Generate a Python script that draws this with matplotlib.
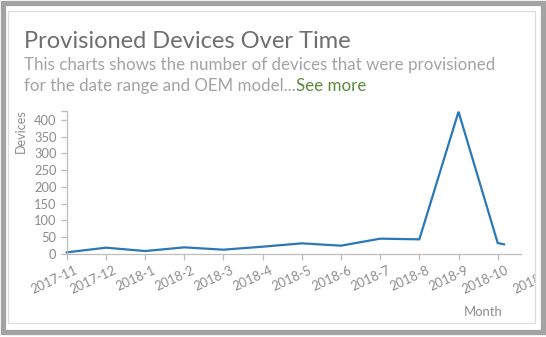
import calendar
import matplotlib
matplotlib.use("Agg")
import matplotlib.pyplot as plt
from matplotlib.patches import Rectangle
from matplotlib.transforms import ScaledTranslation, blended_transform_factory

plt.rcParams['font.family'] = ['Lato', 'DejaVu Sans']

# ---- data ----
dates = ["2017-11-01", "2017-12-01", "2018-01-01", "2018-02-01", "2018-03-01",
         "2018-04-01", "2018-05-01", "2018-06-01", "2018-07-01", "2018-08-01",
         "2018-09-01", "2018-10-01", "2018-10-06"]
devices = [4, 18, 8, 19, 12, 21, 31, 24, 45, 43, 425, 32, 28]
tick_labels = ["2017-11", "2017-12", "2018-1", "2018-2", "2018-3", "2018-4",
               "2018-5", "2018-6", "2018-7", "2018-8", "2018-9", "2018-10"]
extra_label = "2018-11"
y_ticks = [0, 50, 100, 150, 200, 250, 300, 350, 400]

title = "Provisioned Devices Over Time"
subtitle1 = "This charts shows the number of devices that were provisioned"
subtitle2 = "for the date range and OEM model..."
see_more = "See more"


def month_index(s):
    y, m, d = (int(v) for v in s.split("-"))
    days = calendar.monthrange(y, m)[1]
    return (y - 2017) * 12 + (m - 11) + (d - 1) / days


xs = [month_index(d) for d in dates]

W, H = 546, 337
fig = plt.figure(figsize=(W / 100, H / 100), dpi=100)
fig.patch.set_facecolor("white")

# frames
fig.patches.append(Rectangle((3 / W, 1 - 332 / H), 540 / W, (332 - 2.5) / H,
                             transform=fig.transFigure, fill=False,
                             edgecolor="#a3a3a3", linewidth=3.8, zorder=0))
card = Rectangle((8 / W, 1 - 323 / H), (535 - 8) / W, (323 - 11) / H,
                 transform=fig.transFigure, fill=False,
                 edgecolor="#dcdcdc", linewidth=0.9, zorder=0)
fig.patches.append(card)

# texts
fig.text(24 / W, 1 - 47.5 / H, title, fontsize=17, color="#6e6e6e",
         ha="left", va="baseline")
fig.text(24 / W, 1 - 70 / H, subtitle1, fontsize=12.2, color="#a3a3a3",
         ha="left", va="baseline")
t2 = fig.text(24 / W, 1 - 91 / H, subtitle2, fontsize=12.2, color="#a3a3a3",
              ha="left", va="baseline")
fig.canvas.draw()
bb = t2.get_window_extent()
fig.text(bb.x1 / W, 1 - 91 / H, see_more, fontsize=12.2, color="#5a8a3a",
         ha="left", va="baseline")

# axes
ax_left, ax_right = 66.7, 520.5
ax_top, ax_bot = 110.7, 253.7
ax = fig.add_axes([ax_left / W, 1 - ax_bot / H, (ax_right - ax_left) / W,
                   (ax_bot - ax_top) / H])
ax.patch.set_alpha(0)

px_per_month = (497.7 - 66.7) / 11
xmax = (ax_right - ax_left) / px_per_month
ax.set_xlim(0, xmax)
ymax = 428
ax.set_ylim(0, ymax)

ax.plot(xs, devices, color="#2a78b8", linewidth=1.6, solid_joinstyle="miter",
        clip_on=False)

for s in ["top", "right"]:
    ax.spines[s].set_visible(False)
for s in ["left", "bottom"]:
    ax.spines[s].set_color("#bdbdbd")
    ax.spines[s].set_linewidth(0.9)

ax.set_yticks(y_ticks)
ax.set_yticks([ymax], minor=True)
ax.set_xticks(range(len(tick_labels)))
ax.set_xticklabels(tick_labels)
ax.tick_params(axis="both", which="both", color="#bdbdbd", length=4.3,
               width=0.9, labelcolor="#8c8c8c", labelsize=9.3)
ax.tick_params(axis="y", which="major", pad=3)
ax.tick_params(axis="x", pad=3)

offset = ScaledTranslation(7 / 100, 0, fig.dpi_scale_trans)
for lab in ax.get_xticklabels():
    lab.set_rotation(25)
    lab.set_rotation_mode("anchor")
    lab.set_ha("right")
    lab.set_va("top")
    lab.set_transform(lab.get_transform() + offset)

# partially hidden label beyond the axis end
trans = blended_transform_factory(ax.transData, ax.transAxes)
ex = ax.text(xmax + 1, 0, extra_label, transform=trans,
             rotation=25, rotation_mode="anchor", ha="right", va="top",
             fontsize=9.3, color="#8c8c8c", clip_on=True)
ex.set_transform(trans + ScaledTranslation(-4 / 100, -7.3 / 72, fig.dpi_scale_trans))
clip_rect = Rectangle((0, 0), 535 / W, 1, transform=fig.transFigure)
ex.set_clip_path(clip_rect)

ax.set_ylabel("Devices", fontsize=9, color="#8c8c8c")
ax.yaxis.set_label_coords(-39.5 / (ax_right - ax_left), (ax_bot - 131) / (ax_bot - ax_top))
fig.text(483 / W, 1 - 312 / H, "Month", fontsize=9.4, color="#8c8c8c",
         ha="center", va="center")

fig.savefig("out.png", dpi=100, facecolor="white")
